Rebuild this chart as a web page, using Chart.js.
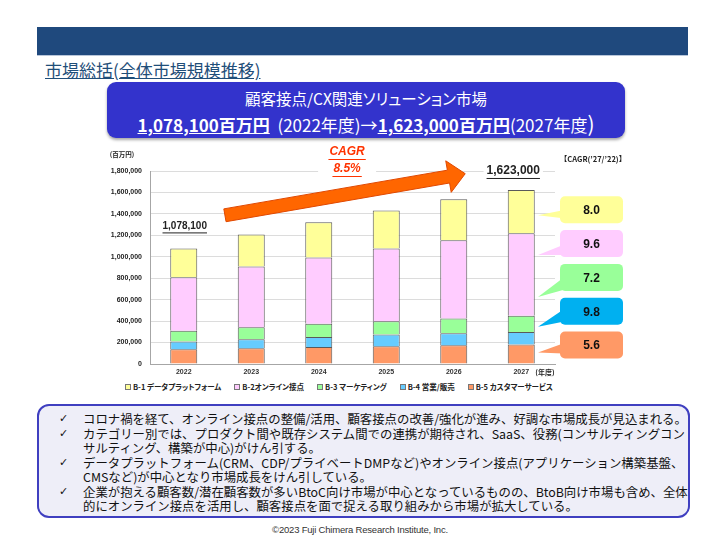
<!DOCTYPE html>
<html><head><meta charset="utf-8">
<script src="https://cdn.jsdelivr.net/npm/chart.js@4.4.0/dist/chart.umd.min.js"></script>
<style>
html,body{margin:0;padding:0;background:#fff;}
body{width:720px;height:540px;position:relative;overflow:hidden;font-family:"Noto Sans CJK JP","Noto Sans",sans-serif;}
#hdr{position:absolute;left:37px;top:27px;width:651px;height:28px;background:#1F497D;border-bottom:1px solid #B8C6DA;}
#pageTitle{position:absolute;left:45px;top:59px;font-size:17px;line-height:22px;color:#1F4E79;text-decoration:underline;white-space:nowrap;}
#titleBox{position:absolute;left:107px;top:82px;width:518px;height:56px;background:#3333CC;border-radius:9px;box-shadow:0 2px 3px rgba(0,0,0,0.35);color:#fff;text-align:center;font-feature-settings:"palt";}
#tl1{position:absolute;left:0;right:0;top:5px;font-size:15.5px;line-height:22px;white-space:nowrap;}
#tl2{position:absolute;left:0;right:0;top:29px;font-size:17px;line-height:24px;white-space:nowrap;}
#tl2 u{font-weight:bold;}
#chartWrap{position:absolute;left:95px;top:145px;width:545px;height:235px;}
#legend{position:absolute;left:125px;top:381px;display:flex;gap:13px;font-size:7.5px;font-weight:bold;color:#222;white-space:nowrap;font-feature-settings:"palt";line-height:12px;}
#legend .it{display:flex;align-items:center;}
#legend .mk{display:inline-block;width:4px;height:4px;border:1px solid #777;margin-right:2px;}
#notes{position:absolute;left:37px;top:404px;width:653px;height:114px;box-sizing:border-box;border:2px solid #3F3FC0;border-radius:12px;background:#EEEEF8;padding-top:6px;}
#notes .b{position:relative;padding-left:44px;font-size:12.4px;line-height:14.5px;color:#111;white-space:nowrap;}
#notes .b .ck{position:absolute;left:20px;top:0;font-family:"DejaVu Sans",sans-serif;font-size:11px;}
#copy{position:absolute;left:0;width:720px;top:524px;text-align:center;font-size:9.5px;color:#333;font-family:"Liberation Sans",Arial,sans-serif;letter-spacing:-0.2px;}
</style>
</head><body>
<div id="hdr"></div>
<div id="pageTitle">市場総括(全体市場規模推移)</div>
<div id="titleBox">
  <div id="tl1">顧客接点/CX関連ソリューション市場</div>
  <div id="tl2"><u id="tv1"></u>&nbsp;&nbsp;(2022年度)→<u id="tv2"></u>(2027年度<span style="font-size:21px">)</span></div>
</div>
<div id="chartWrap"><canvas id="c"></canvas></div>
<div id="legend"></div>
<div id="notes">
  <div class="b"><span class="ck">✓</span>コロナ禍を経て、オンライン接点の整備/活用、顧客接点の改善/強化が進み、好調な市場成長が見込まれる。</div>
  <div class="b"><span class="ck">✓</span>カテゴリー別では、プロダクト間や既存システム間での連携が期待され、SaaS、役務(コンサルティングコン<br>サルティング、構築が中心)がけん引する。</div>
  <div class="b"><span class="ck">✓</span>データプラットフォーム(CRM、CDP/プライベートDMPなど)やオンライン接点(アプリケーション構築基盤、<br>CMSなど)が中心となり市場成長をけん引している。</div>
  <div class="b"><span class="ck">✓</span>企業が抱える顧客数/潜在顧客数が多いBtoC向け市場が中心となっているものの、BtoB向け市場も含め、全体<br>的にオンライン接点を活用し、顧客接点を面で捉える取り組みから市場が拡大している。</div>
</div>
<div id="copy">©2023 Fuji Chimera Research Institute, Inc.</div>
<script>
// ---- data ----
const years = ['2022', '2023', '2024', '2025', '2026', '2027'];
const b1DataPlatform = [268100, 298000, 329000, 354000, 382000, 403000];
const b2OnlineContact = [500000, 568000, 618000, 680000, 730000, 770000];
const b3Marketing = [99000, 112000, 124000, 122000, 139000, 152000];
const b4SalesDistribution = [74000, 84000, 94000, 111000, 112000, 115000];
const b5CustomerService = [137000, 146000, 158000, 165000, 174000, 183000];
const seriesNames = ['B-1 データプラットフォーム', 'B-2オンライン接点', 'B-3 マーケティング', 'B-4 営業/販売', 'B-5 カスタマーサービス'];
const cagrBySeries = ['8.0', '9.6', '7.2', '9.8', '5.6'];
const totalCagr = '8.5%';
const unitLabel = '(百万円)';
const yearUnitLabel = '(年度)';
const cagrHeader = '【CAGR(’27/’22)】';

// ---- style ----
const barColors = ['#FFFF99', '#FFCCFF', '#99FF99', '#66CCFF', '#FF9966'];
const boxColors = ['#FFFF99', '#FFCCFF', '#99FF99', '#00B0F0', '#FF9966'];
const seriesData = [b1DataPlatform, b2OnlineContact, b3Marketing, b4SalesDistribution, b5CustomerService];
const totals = years.map((_, i) => seriesData.reduce((s, d) => s + d[i], 0));
const fmt = v => v.toLocaleString('en-US');

document.getElementById('tv1').textContent = fmt(totals[0]) + '百万円';
document.getElementById('tv2').textContent = fmt(totals[totals.length - 1]) + '百万円';

// legend
const lg = document.getElementById('legend');
seriesNames.forEach((n, i) => {
  const it = document.createElement('div'); it.className = 'it';
  const mk = document.createElement('span'); mk.className = 'mk'; mk.style.background = barColors[i];
  it.appendChild(mk); it.appendChild(document.createTextNode(n)); lg.appendChild(it);
});

// datasets bottom -> top : B-5, B-4, B-3, B-2, B-1
const datasets = [4, 3, 2, 1, 0].map(i => ({
  label: seriesNames[i], data: seriesData[i], backgroundColor: barColors[i],
  borderColor: '#5A5A5A', borderWidth: 1, barPercentage: 0.4, categoryPercentage: 1.0
}));

// tail geometry of callouts (relative to box top): [base y1, base y2, tip y]
const tails = [[14, 22, 19], [15, 25, 25], [14, 26, 33], [12, 24, 29], [12, 22, 21]];

const annot = {
  id: 'annot',
  afterDatasetsDraw(chart) {
    const {ctx, chartArea: a, scales: {x, y}} = chart;
    ctx.save();
    // growth arrow
    const sx = x.getPixelForValue(0.61), sy = y.getPixelForValue(1387000);
    const tx = x.getPixelForValue(4.17), ty = y.getPixelForValue(1775000);
    const dx = tx - sx, dy = ty - sy, L = Math.hypot(dx, dy);
    const ux = dx / L, uy = dy / L, nx = -uy, ny = ux;
    const hw = 6.5, hh = 16, hl = 17;
    const bx = tx - ux * hl, by = ty - uy * hl;
    ctx.beginPath();
    ctx.moveTo(sx + nx * hw, sy + ny * hw);
    ctx.lineTo(bx + nx * hw, by + ny * hw);
    ctx.lineTo(bx + nx * hh, by + ny * hh);
    ctx.lineTo(tx, ty);
    ctx.lineTo(bx - nx * hh, by - ny * hh);
    ctx.lineTo(bx - nx * hw, by - ny * hw);
    ctx.lineTo(sx - nx * hw, sy - ny * hw);
    ctx.closePath();
    ctx.fillStyle = '#FF6600'; ctx.fill();
    ctx.strokeStyle = '#E04800'; ctx.lineWidth = 1; ctx.stroke();

    // CAGR total
    const cx = x.getPixelForValue(2.42);
    ctx.fillStyle = '#fff';
    ctx.fillRect(cx - 29, a.top - 28, 58, 36);
    ctx.font = 'italic bold 12px "Liberation Sans"';
    ctx.fillStyle = '#FF3300'; ctx.textAlign = 'center'; ctx.textBaseline = 'middle';
    const line = (t, yy) => {
      ctx.fillText(t, cx, yy);
      const w = ctx.measureText(t).width;
      ctx.fillRect(cx - w / 2 - 1, yy + 7, w + 2, 1);
    };
    line('CAGR', a.top - 19);
    line(totalCagr, a.top - 2);

    // total labels
    ctx.fillStyle = '#222';
    const lab = (t, px, py, size, bg) => {
      ctx.font = 'bold ' + size + 'px "Liberation Sans"';
      const w = ctx.measureText(t).width;
      if (bg) { ctx.fillStyle = '#fff'; ctx.fillRect(px - w / 2 - 3, py - 8, w + 6, 17); }
      ctx.fillStyle = '#222';
      ctx.fillText(t, px, py);
      ctx.fillRect(px - w / 2, py + size / 2 + 1, w, 1);
    };
    const n = years.length - 1;
    lab(fmt(totals[0]), x.getPixelForValue(0) + 1, y.getPixelForValue(totals[0]) - 22, 10, false);
    lab(fmt(totals[n]), x.getPixelForValue(n) - 8, y.getPixelForValue(totals[n]) - 19, 12, true);

    // unit labels
    ctx.font = 'bold 6.5px "Noto Sans CJK JP"';
    ctx.fillStyle = '#222';
    ctx.fillText(unitLabel, a.left - 28, a.top - 16);
    ctx.font = 'bold 7px "Noto Sans CJK JP"';
    ctx.fillText(yearUnitLabel, a.right - 10, a.bottom + 8);

    // CAGR header + callout boxes
    ctx.font = 'bold 7.5px "Noto Sans CJK JP"';
    ctx.fillText(cagrHeader, a.right + 38, a.top - 12);
    const bx0 = a.right + 5, bw = 63, bh = 27, tipX = a.right - 17;
    cagrBySeries.forEach((v, i) => {
      const top = a.top + 25.3 + i * 33.8;
      const t = tails[i];
      ctx.fillStyle = boxColors[i];
      ctx.beginPath();
      ctx.roundRect(bx0, top, bw, bh, 5);
      ctx.fill();
      ctx.beginPath();
      ctx.moveTo(bx0 + 3, top + t[0]);
      ctx.lineTo(tipX, top + t[2]);
      ctx.lineTo(bx0 + 3, top + t[1]);
      ctx.closePath();
      ctx.fill();
      ctx.fillStyle = '#111';
      ctx.font = 'bold 12px "Liberation Sans"';
      ctx.fillText(v, bx0 + bw / 2, top + bh / 2 + 1);
    });
    ctx.restore();
  }
};

new Chart(document.getElementById('c'), {
  type: 'bar',
  data: {labels: years, datasets},
  options: {
    responsive: true, maintainAspectRatio: false, animation: false,
    layout: {padding: {top: 26, right: 85, bottom: 0, left: 0}},
    plugins: {legend: {display: false}, tooltip: {enabled: false}},
    scales: {
      x: {
        stacked: true,
        grid: {display: false, drawTicks: false},
        border: {display: true, color: '#A6A6A6'},
        ticks: {font: {family: 'Liberation Sans', size: 7, weight: 'bold'}, color: '#333', padding: 4},
        afterFit(s) { s.height = 16; }
      },
      y: {
        stacked: true, min: 0, max: 1800000,
        grid: {color: '#DCDCDC', drawTicks: false},
        border: {display: true, color: '#A6A6A6'},
        ticks: {stepSize: 200000, padding: 8, callback: v => fmt(v),
          font: {family: 'Liberation Sans', size: 7, weight: 'bold'}, color: '#222'},
        afterFit(s) { s.width = 55; }
      }
    }
  },
  plugins: [annot]
});
</script>
</body></html>
